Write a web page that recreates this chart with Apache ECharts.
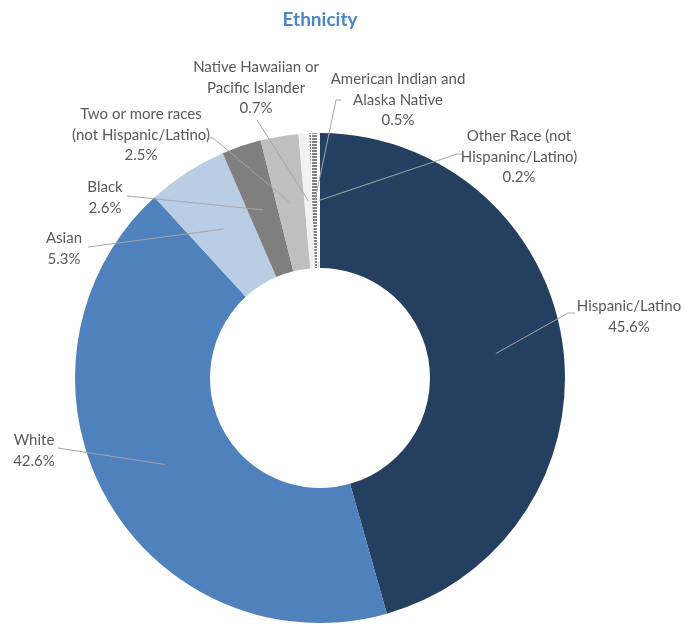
<!DOCTYPE html>
<html>
<head>
<meta charset="utf-8">
<script src="https://cdn.jsdelivr.net/npm/echarts@6/dist/echarts.min.js"></script>
<style>
html,body{margin:0;padding:0;background:#fff;}
#chart{width:685px;height:625px;}
</style>
</head>
<body>
<div id="chart"></div>
<script>
const categories = [
  'Hispanic/Latino',
  'White',
  'Asian',
  'Black',
  'Two or more races\n(not Hispanic/Latino)',
  'Native Hawaiian or\nPacific Islander',
  'American Indian and\nAlaska Native',
  'Other Race (not\nHispaninc/Latino)'
];
const values = [45.6, 42.6, 5.3, 2.6, 2.5, 0.7, 0.5, 0.2];

// styles
const colors = ['#243F60', '#4F81BD', '#B9CDE5', '#7F7F7F', '#BFBFBF', '#F2F2F2', '#FFFFFF', '#FFFFFF'];
// label layout: [centerX, topY, elbowX, elbowY, endX, endY]
const labelPos = [
  [629, 296, 568, 313, 575, 313],
  [34, 430, 58, 448, 58, 448],
  [64, 228, 88, 247, 88, 247],
  [105, 177, 127, 196, 127, 196],
  [141, 104, 213, 138, 207, 138],
  [256, 57, 257, 120, 257, 120],
  [398, 69, 336, 100, 341, 100],
  [519, 126, 457, 154, 462, 154]
];
const CENTER = [320, 378];
const RADIUS = [110, 245];

const chart = echarts.init(document.getElementById('chart'));

const data = categories.map((name, i) => {
  const item = { name: name, value: values[i], itemStyle: { color: colors[i] } };
  if (i === 6) {
    item.itemStyle.decal = {
      symbol: 'rect',
      symbolSize: 1,
      color: '#808080',
      dashArrayX: [[5, 1]],
      dashArrayY: [2, 1],
      rotation: 0
    };
  }
  return item;
});

chart.setOption({
  backgroundColor: '#ffffff',
  animation: false,
  title: {
    text: 'Ethnicity',
    left: 315,
    textAlign: 'center',
    top: 5,
    textStyle: { fontFamily: 'Lato', fontWeight: 'bold', fontSize: 19, color: '#4A86C8' }
  },
  series: [{
    type: 'pie',
    center: CENTER,
    radius: RADIUS,
    startAngle: 90,
    clockwise: true,
    avoidLabelOverlap: false,
    data: data,
    itemStyle: { borderWidth: 0 },
    emphasis: { disabled: true },
    label: {
      show: true,
      position: 'outside',
      formatter: '{b}\n{c}%',
      fontFamily: 'Lato',
      fontSize: 15,
      lineHeight: 20.5,
      color: '#595959',
      align: 'center'
    },
    labelLine: { show: false },
    labelLayout: function (params) {
      const p = labelPos[params.dataIndex];
      return { x: p[0], y: p[1], align: 'center', verticalAlign: 'top' };
    }
  }]
});

// Leader lines: from the slice's mid-ring point (library layout) to each label
const seriesData = chart.getModel().getSeriesByIndex(0).getData();
const lines = [];
for (let i = 0; i < values.length; i++) {
  const lay = seriesData.getItemLayout(i);
  if (!lay) continue;
  const mid = (lay.startAngle + lay.endAngle) / 2;
  const rMid = (lay.r0 + lay.r) / 2;
  const inside = [lay.cx + Math.cos(mid) * rMid, lay.cy + Math.sin(mid) * rMid];
  const p = labelPos[i];
  lines.push({
    type: 'polyline',
    z: 100,
    silent: true,
    shape: { points: [inside, [p[2], p[3]], [p[4], p[5]]] },
    style: { stroke: '#A6A6A6', lineWidth: 1, fill: null }
  });
}
chart.setOption({ graphic: lines });
</script>
</body>
</html>
